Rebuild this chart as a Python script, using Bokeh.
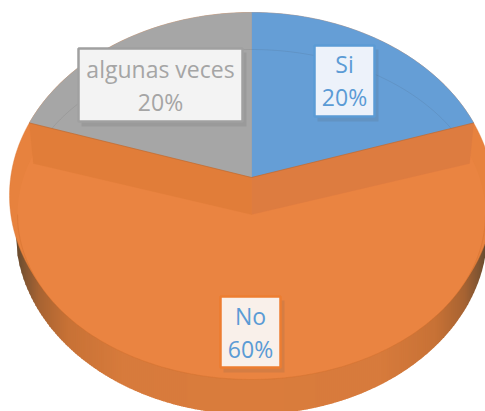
import numpy as np
from bokeh.plotting import figure
from bokeh.models import Range1d
from bokeh.core.properties import value
from bokeh.embed import file_html
from bokeh.resources import INLINE

# data
categories = ["Si", "No", "algunas veces"]
shares = [20, 60, 20]
label_colors = ["#5b9bd5", "#5b9bd5", "#a5a5a5"]
slice_colors = ["#659ed6", "#ea8441", "#a6a6a6"]

W, H = 485, 411
p = figure(width=W, height=H, output_backend="svg", toolbar_location=None,
           x_range=Range1d(0, W), y_range=Range1d(H, 0), min_border=0)
p.axis.visible = False
p.grid.visible = False
p.outline_line_color = None
p.background_fill_color = "white"
p.border_fill_color = "white"

# geometry (pixels)
CX = 251
OUT = dict(cy=195, a=242, b=183)
INN = dict(cy=214, a=234, b=165)
WALL = dict(cy=231, a=236, b=183)
APEX_Y = 177
APEX2_Y = 214

def ell(e, th):
    return CX + e["a"] * np.sin(th), e["cy"] - e["b"] * np.cos(th)

def ray_hit(th):
    """outer-rim point reached from the apex at pie angle th"""
    k = (OUT["cy"] - APEX_Y) / OUT["b"]
    c, s = np.cos(th), np.sin(th)
    t = -k * c + np.sqrt(k * k * c * c - k * k + 1)
    return np.arctan2(t * s, k + t * c)

a_si = np.radians(shares[0] * 3.6)
a_alg = np.radians(shares[2] * 3.6)

# wall, cut into vertical strips so it can shade toward the sides
stop_u = [0.0, 0.55, 0.78, 0.90, 0.96, 1.0]
stop_r = [219, 215, 200, 168, 130, 100]
stop_g = [125, 123, 114, 100, 86, 72]
stop_b = [60, 60, 54, 50, 50, 46]
xs, ys, cols = [], [], []
edges = np.arange(CX - WALL["a"], CX + WALL["a"], 2.0)
for x0 in edges:
    x1 = x0 + 2.6
    def low(x):
        d = np.clip((x - CX) / WALL["a"], -1, 1)
        return WALL["cy"] + WALL["b"] * np.sqrt(1 - d * d)
    xs.append([x0, x1, x1, x0])
    ys.append([215, 215, low(min(x1, CX + WALL["a"])), low(x0)])
    u = abs(x0 + 1 - CX) / WALL["a"]
    cols.append("#%02x%02x%02x" % (int(np.interp(u, stop_u, stop_r)),
                                   int(np.interp(u, stop_u, stop_g)),
                                   int(np.interp(u, stop_u, stop_b))))
p.patches(xs, ys, fill_color=cols, line_color=None)

full = np.linspace(0, 2 * np.pi, 361)

# rim and face of the large slice
ox, oy = ell(OUT, full)
p.patch(ox, oy, fill_color="#e7823e", line_color="#dd7a36", line_width=0.4)
ix, iy = ell(INN, full)
p.patch(ix, iy, fill_color=slice_colors[1], line_color=None)
t3 = np.linspace(np.pi / 2, 3 * np.pi / 2, 180)
lx3, ly3 = ell(INN, t3)
p.line(lx3, ly3, line_color="#cf6e2d", line_alpha=0.55, line_width=0.7)

# back slices
def wedge(a0, a1, color):
    t = np.linspace(a0, a1, 80)
    x, y = ell(OUT, t)
    p.patch(np.r_[CX, x], np.r_[APEX_Y, y], fill_color=color, line_color=color, line_width=0.5)

wedge(0, ray_hit(a_si), slice_colors[0])
wedge(-ray_hit(a_alg), 0, slice_colors[2])

# faint contour of the front face seen through the back slices
t2 = np.linspace(-a_alg * 0.93, a_si * 0.93, 120)
lx, ly = ell(INN, t2)
p.line(lx, ly, line_color="#3a3a3a", line_alpha=0.13, line_width=0.8)

# darker inner bands of the large slice
def band(sign, color):
    t = ray_hit(a_si)
    xa, ya = ell(OUT, sign * t)
    xb, yb = CX + sign * INN["a"] * np.sin(a_si) * 0.98, ell(INN, a_si)[1]
    p.patch([CX, xa, xb, CX], [APEX_Y, ya, yb, APEX2_Y],
            fill_color=color, line_color=color, line_width=0.3)

band(1, "#dd7c40")
band(-1, "#e17d39")
xr, yr = ell(OUT, ray_hit(a_si))
p.line([2 * CX - xr, CX, xr], [yr, APEX_Y, yr], line_color="#b8652c", line_alpha=0.8, line_width=0.7)

# data labels: left, right, top, bottom, fill, border, first line centre
boxes = {
    "Si": (314, 374, 45, 116, "#edf2fa", "#5b9bd5", 63),
    "No": (220, 280, 296, 367, "#f9f0ea", "#ed7d31", 315),
    "algunas veces": (78, 242, 48, 121, "#f3f3f3", "#a0a0a0", 68),
}
for name, share, tc in zip(categories, shares, label_colors):
    l, r, t, b, fc, bc, y1 = boxes[name]
    p.quad(left=[l + 3], right=[r + 4], top=[t + 4], bottom=[b + 5],
           fill_color="#555555", fill_alpha=0.14, line_color=None)
    p.quad(left=[l], right=[r], top=[t], bottom=[b], fill_color=fc,
           line_color=bc, line_width=2.5)
    mx = (l + r) / 2
    p.text([mx], [y1], text=[name], text_font=value("Open Sans"), text_font_size="23px",
           text_align="center", text_baseline="middle", text_color=tc)
    p.text([mx], [y1 + 33], text=[f"{share}%"], text_font=value("Open Sans"), text_font_size="23px",
           text_align="center", text_baseline="middle", text_color=tc)

open("out.html", "w").write(file_html(p, INLINE))
